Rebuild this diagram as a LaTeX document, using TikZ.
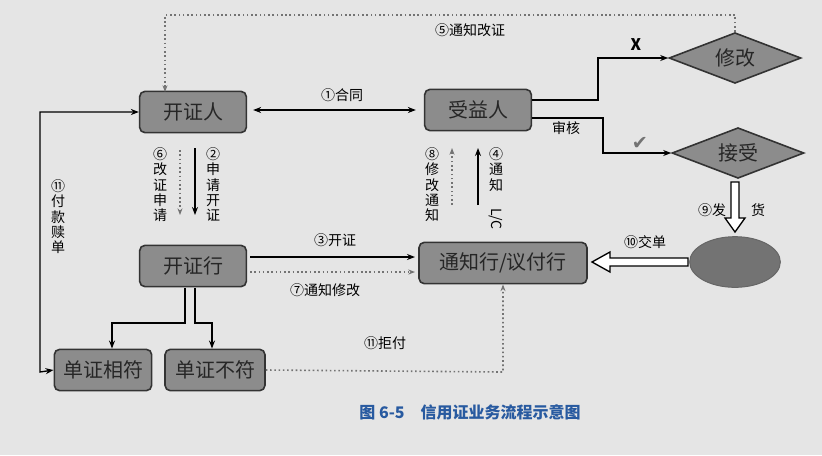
\documentclass[tikz,border=0pt]{standalone}
\usepackage{fontspec}
\setmainfont{Noto Sans CJK SC}
\newfontfamily\symfont{DejaVu Sans}
\usetikzlibrary{shapes.geometric,arrows.meta}
\tikzset{every picture/.style={line width=0.75pt}}
\tikzset{
  box/.style={draw=black!80, line width=1.2pt, fill=black!45, rounded corners=4pt, minimum height=31pt, font=\fontsize{15}{15}\selectfont, text=black!85},
  choice/.style={diamond, aspect=2.6, draw=black!80, line width=1.2pt, fill=black!45, inner sep=1pt, minimum width=99pt, minimum height=38pt, font=\fontsize{15}{15}\selectfont, text=black!85},
  lbl/.style={font=\fontsize{10.5}{10.5}\selectfont, inner sep=0.75pt},
  vlbl/.style={font=\fontsize{10.5}{11.5}\selectfont, inner sep=0.75pt, align=center, anchor=north},
  flow/.style={-{Stealth[length=6pt]}, line width=1pt},
  hint/.style={-{Stealth[length=5pt]}, dotted, line width=1.2pt, black!55}
}
\begin{document}
\begin{tikzpicture}[x=0.75pt,y=0.75pt,yscale=-1,xscale=1]
\fill[black!10] (0,0) rectangle (822,455);
\useasboundingbox (0,0) rectangle (822,455);

% Nodes
\node[box, minimum width=80pt] (applicant) at (193,112) {开证人};
\node[box, minimum width=80pt] (beneficiary) at (478,110) {受益人};
\node[box, minimum width=80pt] (issuer) at (193,266) {开证行};
\node[box, minimum width=126pt] (advising) at (503,263) {通知行/议付行};
\node[box, minimum width=73pt] (match) at (103,370) {单证相符};
\node[box, minimum width=75pt] (nomatch) at (215,370) {单证不符};
\node[choice] (amend) at (735,58) {修改};
\node[choice] (accept) at (738,153) {接受};
\node[ellipse, draw=black!60, fill=black!55, minimum width=68pt, minimum height=38pt] (ship) at (735,262) {};

% Connectors
\draw[{Stealth[length=6pt]}-{Stealth[length=6pt]}, line width=1pt] (applicant.east)+(6,-2) -- ([xshift=-6pt]beneficiary.west);
\node[lbl] (contract) at (342,95) {①合同};
\draw[hint] (amend.north) -- (735,15) -- (165,15) -- (165,92);
\node[lbl] (notify5) at (470,30) {⑤通知改证};
\draw[flow] (532,100) -- (598,100) -- (598,58) -- (amend.west);
\draw[flow] (532,118) -- (603,118) -- (603,153) -- (accept.west);
\node[font=\bfseries\large] (cross) at (636,45) {X};
\node[lbl] (review) at (566,128) {审核};
\node[text=black!55, font=\symfont\Large] (tick) at (640,143) {✔};
\draw[flow] (195,148) -- (195,215);
\draw[hint] (180,150) -- (180,215);
\node[vlbl] (apply2) at (213,146) {②\\申\\请\\开\\证};
\node[vlbl] (apply6) at (160,146) {⑥\\改\\证\\申\\请};
\draw[flow] (478,205) -- (478,148);
\draw[hint] (452,205) -- (452,148);
\node[vlbl] (notify4) at (496,146) {④\\通\\知\\[2pt]\rotatebox{-90}{L/C}};
\node[vlbl] (notify8) at (432,146) {⑧\\修\\改\\通\\知};
\draw[flow] (250,257) -- (415,257);
\draw[hint] (250,272) -- (415,272);
\node[lbl] (issue3) at (335,240) {③开证};
\node[lbl] (notify7) at (325,290) {⑦通知修改};
\draw[flow] (185,288) -- (185,323) -- (112,323) -- (match.north -| 112,0);
\draw[flow] (195,288) -- (195,323) -- (212,323) -- (nomatch.north -| 212,0);
\draw[{Stealth[length=6pt]}-{Stealth[length=6pt]}, line width=1pt] (applicant.west) -- (40,112) -- (40,372) -- (match.west);
\node[vlbl] (pay11) at (58,178) {⑪\\付\\款\\赎\\单};
\draw[hint] (nomatch.east) -- (503,372) -- (advising.south);
\node[lbl] (refuse11) at (385,343) {⑪拒付};
% hollow arrows
\draw[line width=1pt, fill=white] (731,182) -- (739,182) -- (739,218) -- (745,218) -- (735,232) -- (725,218) -- (731,218) -- cycle;
\node[lbl] (ship9) at (712,210) {⑨发};
\node[lbl] (ship9b) at (758,210) {货};
\draw[line width=1pt, fill=white] (688,258) -- (610,258) -- (610,252) -- (592,262) -- (610,272) -- (610,266) -- (688,266) -- cycle;
\node[lbl] (hand10) at (645,242) {⑩交单};

% Caption
\node[text={rgb,255:red,40;green,90;blue,160}, font=\bfseries\fontsize{12}{12}\selectfont] (caption) at (470,412) {图 6-5\quad 信用证业务流程示意图};
\end{tikzpicture}
\end{document}
